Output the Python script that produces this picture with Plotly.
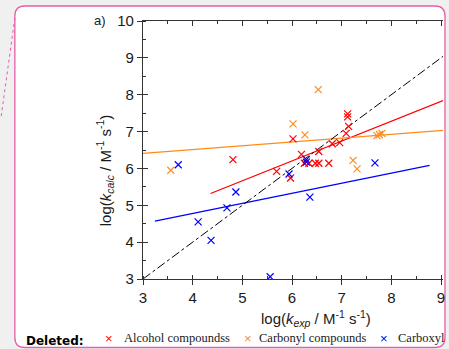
import plotly.graph_objects as go

# ---- data ----
alcohol_x = [4.81, 5.69, 5.97, 6.02, 6.19, 6.25, 6.34, 6.47, 6.54, 6.74, 6.54, 6.81, 6.96, 7.09, 7.14, 7.12, 7.12]
alcohol_y = [6.24, 5.92, 5.74, 6.80, 6.38, 6.14, 6.14, 6.14, 6.14, 6.14, 6.46, 6.67, 6.70, 6.95, 7.14, 7.40, 7.48]

carbonyl_x = [3.56, 6.02, 6.26, 6.53, 7.23, 7.31, 7.71, 7.76, 7.81]
carbonyl_y = [5.95, 7.21, 6.91, 8.14, 6.22, 5.99, 6.89, 6.92, 6.95]

carboxyl_x = [3.71, 4.11, 4.37, 4.69, 4.87, 5.56, 5.94, 6.29, 6.29, 6.36, 7.67]
carboxyl_y = [6.10, 4.55, 4.05, 4.93, 5.36, 3.06, 5.85, 6.24, 6.17, 5.22, 6.15]

# fitted lines (endpoints)
alcohol_fit_x = [4.36, 9.04]
alcohol_fit_y = [5.32, 7.84]
carbonyl_fit_x = [3.0, 9.04]
carbonyl_fit_y = [6.41, 7.03]
carboxyl_fit_x = [3.24, 8.77]
carboxyl_fit_y = [4.57, 6.08]
identity_x = [3.0, 9.04]
identity_y = [3.0, 9.04]

series_names = ["Alcohol compoundss", "Carbonyl compounds", "Carboxyl"]
series_colors = ["#ff0000", "#ff8c1a", "#0000ff"]

x_ticks = [3, 4, 5, 6, 7, 8, 9]
y_ticks = [3, 4, 5, 6, 7, 8, 9, 10]
x_range = [3, 9.04]
y_range = [3, 10]

# ---- layout geometry ----
W, H = 449, 349
ML, MR, MT, MB = 143, 4, 21, 70
PW, PH = W - ML - MR, H - MT - MB


def fx(px):
    return (px - ML) / PW


def fy(py):
    return (H - MB - py) / PH


fig = go.Figure()

marker_style = dict(symbol="x-thin", size=7, line=dict(width=1.2))

fits = [(alcohol_fit_x, alcohol_fit_y), (carbonyl_fit_x, carbonyl_fit_y), (carboxyl_fit_x, carboxyl_fit_y)]
for (fxs, fys), c in zip(fits, series_colors):
    fig.add_trace(go.Scatter(x=fxs, y=fys, mode="lines", line=dict(color=c, width=1.3),
                             showlegend=False, hoverinfo="skip"))

fig.add_trace(go.Scatter(x=identity_x, y=identity_y, mode="lines",
                         line=dict(color="black", width=1, dash="dashdot"),
                         showlegend=False, hoverinfo="skip"))

pts = [(alcohol_x, alcohol_y), (carbonyl_x, carbonyl_y), (carboxyl_x, carboxyl_y)]
for (xs, ys), name, c in zip(pts, series_names, series_colors):
    m = dict(marker_style)
    m["color"] = c
    m["line"] = dict(width=1.2, color=c)
    fig.add_trace(go.Scatter(x=xs, y=ys, mode="markers", name=name, marker=m, showlegend=False))

# dummy traces for helper axes
fig.add_trace(go.Scatter(x=[None], y=[None], xaxis="x2", yaxis="y2", showlegend=False))
fig.add_trace(go.Scatter(x=[None], y=[None], xaxis="x3", yaxis="y", showlegend=False))

axcol = "#333333"
tickfont = dict(family="Liberation Sans, Arial", size=15, color="#1a1a1a")

fig.update_layout(
    width=W, height=H,
    margin=dict(l=ML, r=MR, t=MT, b=MB),
    paper_bgcolor="#f0f0f0",
    plot_bgcolor="rgba(0,0,0,0)",
    showlegend=False,
    xaxis=dict(range=x_range, tickvals=x_ticks, ticks="outside", ticklen=5, tickwidth=1.2,
               tickcolor=axcol, showline=True, linecolor=axcol, linewidth=1.2,
               showgrid=False, zeroline=False, tickfont=tickfont,
               minor=dict(ticks="inside", ticklen=3, dtick=0.5, tick0=3, tickcolor=axcol, showgrid=False)),
    yaxis=dict(range=y_range, tickvals=y_ticks, ticks="outside", ticklen=5, tickwidth=1.2,
               tickcolor=axcol, showline=True, linecolor=axcol, linewidth=1.2,
               showgrid=False, zeroline=False, tickfont=tickfont,
               minor=dict(ticks="inside", ticklen=3, dtick=0.5, tick0=3, tickcolor=axcol, showgrid=False)),
    xaxis2=dict(range=x_range, overlaying="x", side="top", anchor="y2", tickvals=x_ticks,
                ticks="inside", ticklen=5, tickwidth=1.2, tickcolor=axcol, showline=True,
                linecolor=axcol, linewidth=1.2, showticklabels=False, showgrid=False, zeroline=False,
                minor=dict(ticks="inside", ticklen=3, dtick=0.5, tick0=3, tickcolor=axcol, showgrid=False)),
    yaxis2=dict(range=y_range, overlaying="y", side="left", anchor="x2", tickvals=y_ticks,
                ticks="inside", ticklen=5, tickwidth=1.2, tickcolor=axcol, showline=False,
                showticklabels=False, showgrid=False, zeroline=False),
    xaxis3=dict(range=x_range, overlaying="x", side="bottom", anchor="y", tickvals=x_ticks,
                ticks="inside", ticklen=4, tickwidth=1.2, tickcolor=axcol, showline=False,
                showticklabels=False, showgrid=False, zeroline=False),
)

# pink comment frame with rounded corners
L, R, T, B, r = 14, 447, 6, 347.5, 10
path = (f"M {fx(L + r)},{fy(T)} L {fx(R - r)},{fy(T)} Q {fx(R)},{fy(T)} {fx(R)},{fy(T + r)} "
        f"L {fx(R)},{fy(B - r)} Q {fx(R)},{fy(B)} {fx(R - r)},{fy(B)} "
        f"L {fx(L + r)},{fy(B)} Q {fx(L)},{fy(B)} {fx(L)},{fy(B - r)} "
        f"L {fx(L)},{fy(T + r)} Q {fx(L)},{fy(T)} {fx(L + r)},{fy(T)} Z")
pink = "#e65ea6"
fig.add_shape(type="path", path=path, xref="paper", yref="paper", layer="below",
              fillcolor="white", line=dict(color=pink, width=1.3))
fig.add_shape(type="line", xref="paper", yref="paper", x0=fx(14), y0=fy(18), x1=fx(0), y1=fy(118),
              line=dict(color=pink, width=1, dash="dot"), layer="below")

# axis titles
titlefont = dict(family="Liberation Sans, Arial", size=15, color="#1a1a1a")
fig.add_annotation(xref="paper", yref="paper", x=fx(317), y=fy(318), xanchor="center", yanchor="middle",
                   text="log(<i>k</i><sub><i>exp</i></sub> / M<sup>-1</sup> s<sup>-1</sup>)",
                   showarrow=False, font=titlefont)
fig.add_annotation(xref="paper", yref="paper", x=fx(104), y=fy(170), xanchor="center", yanchor="middle",
                   text="log(<i>k</i><sub><i>calc</i></sub> / M<sup>-1</sup> s<sup>-1</sup>)",
                   textangle=-90, showarrow=False, font=titlefont)
fig.add_annotation(xref="paper", yref="paper", x=fx(108), y=fy(20), xanchor="right", yanchor="middle",
                   text="a)", showarrow=False,
                   font=dict(family="Liberation Sans, Arial", size=13, color="#1a1a1a"))

# "Deleted:" legend row
fig.add_annotation(xref="paper", yref="paper", x=fx(23), y=fy(341), xanchor="left", yanchor="middle",
                   text="<b>Deleted:</b>", showarrow=False,
                   font=dict(family="DejaVu Sans", size=12, color="black"))
leg_mark_px = [109, 249, 386]
leg_text_px = [122, 258, 398]
for name, c, mx, tx in zip(series_names, series_colors, leg_mark_px, leg_text_px):
    fig.add_annotation(xref="paper", yref="paper", x=fx(mx), y=fy(338), xanchor="center", yanchor="middle",
                       text="×", showarrow=False,
                       font=dict(family="Liberation Sans", size=13, color=c))
    fig.add_annotation(xref="paper", yref="paper", x=fx(tx), y=fy(338), xanchor="left", yanchor="middle",
                       text=name, showarrow=False,
                       font=dict(family="Liberation Serif, Times New Roman", size=12.5, color="#1a1a1a"))

fig.write_html("out.html")
